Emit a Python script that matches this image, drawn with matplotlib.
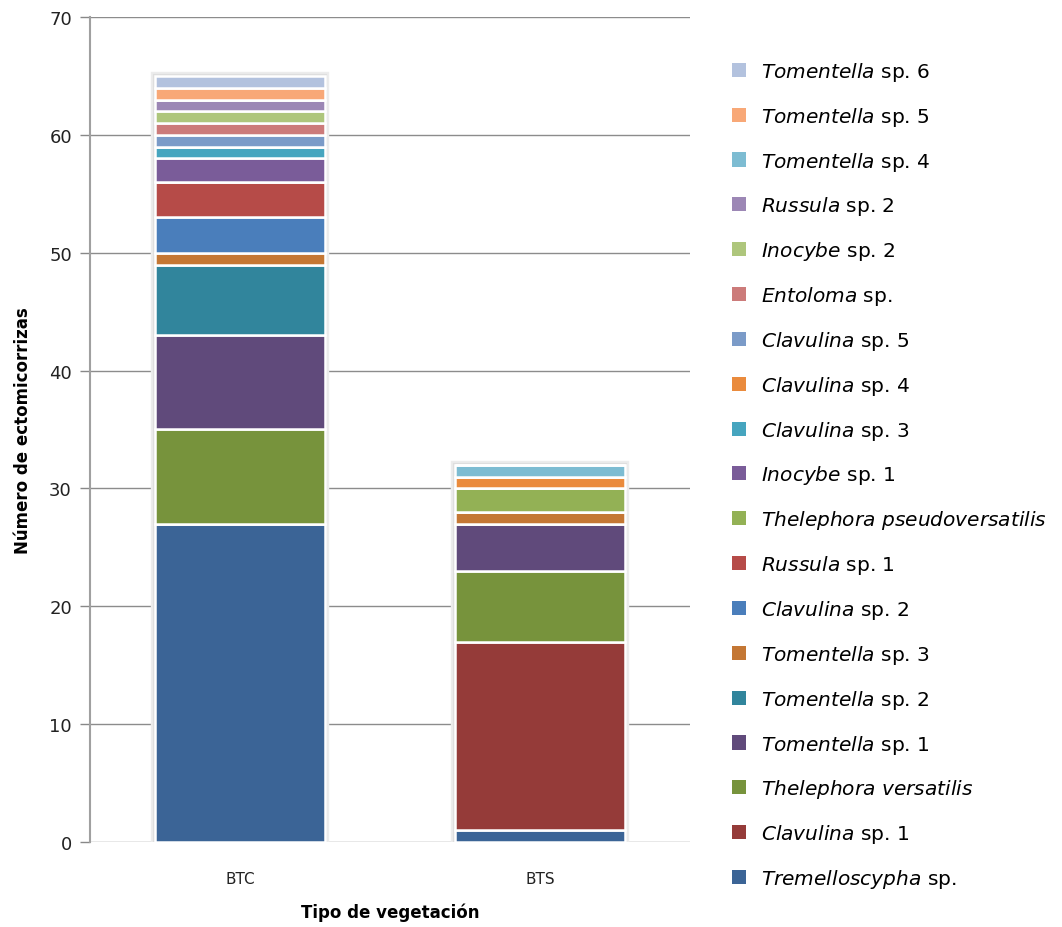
import matplotlib
matplotlib.use('Agg')
import numpy as np
import matplotlib.pyplot as plt
from matplotlib.patches import Patch

# vegetation types
sites = ['BTC', 'BTS']

# species, bottom of the stack first: (genus, rest of the name)
species = [
    ('Tremelloscypha', 'sp.'),
    ('Clavulina', 'sp. 1'),
    ('Thelephora versatilis', ''),
    ('Tomentella', 'sp. 1'),
    ('Tomentella', 'sp. 2'),
    ('Tomentella', 'sp. 3'),
    ('Clavulina', 'sp. 2'),
    ('Russula', 'sp. 1'),
    ('Thelephora pseudoversatilis', ''),
    ('Inocybe', 'sp. 1'),
    ('Clavulina', 'sp. 3'),
    ('Clavulina', 'sp. 4'),
    ('Clavulina', 'sp. 5'),
    ('Entoloma', 'sp.'),
    ('Inocybe', 'sp. 2'),
    ('Russula', 'sp. 2'),
    ('Tomentella', 'sp. 4'),
    ('Tomentella', 'sp. 5'),
    ('Tomentella', 'sp. 6'),
]

btc = [27, 0, 8, 8, 6, 1, 3, 3, 0, 2, 1, 0, 1, 1, 1, 1, 0, 1, 1]
bts = [1, 16, 6, 4, 0, 1, 0, 0, 2, 0, 0, 1, 0, 0, 0, 0, 1, 0, 0]

colors = ['#3b6496', '#953b39', '#77933c', '#604a7b', '#31859c', '#c47734',
          '#4a7ebb', '#b64b48', '#93b155', '#7a5c99', '#46a5bf', '#ea8b3d',
          '#7b9bc8', '#cc7b7a', '#aec67c', '#9c87b5', '#7dbcd2', '#f8a877',
          '#b3c2de']

fig = plt.figure(figsize=(10.62, 9.28), dpi=100)
ax = fig.add_axes([0.0847, 0.0916, 0.565, 0.889])

x = np.arange(len(sites))
width = 0.567
data = np.array([btc, bts], dtype=float)
totals = data.sum(axis=1)

# soft halo around each stack
ax.bar(x, totals, width, color='none', edgecolor='#ececec', linewidth=6, zorder=2)
ax.bar(x, totals, width, color='none', edgecolor='#dedede', linewidth=3, zorder=2)

bottom = np.zeros(len(sites))
for i, c in enumerate(colors):
    vals = data[:, i]
    ax.bar(x, vals, width, bottom=bottom, color=c, edgecolor='white',
           linewidth=1.8, zorder=3)
    bottom += vals

ax.set_xlim(-0.5, 1.5)
ax.set_ylim(0, 70)
ax.set_yticks(np.arange(0, 71, 10))
ax.set_xticks(x)
ax.set_xticklabels(sites, fontsize=11, color='#222222')
ax.tick_params(axis='x', length=0, pad=21)
ax.tick_params(axis='y', length=7, width=1, color='#888888', labelsize=13,
               labelcolor='#222222', pad=6)
ax.grid(axis='y', color='#8c8c8c', linewidth=1, zorder=0)
ax.set_axisbelow(True)
for s in ['top', 'right', 'bottom']:
    ax.spines[s].set_visible(False)
ax.spines['left'].set_color('#a0a0a0')
ax.spines['left'].set_linewidth(1.5)

ax.set_xlabel('Tipo de vegetación', fontsize=12, fontweight='bold', labelpad=12)
ax.set_ylabel('Número de ectomicorrizas', fontsize=12, fontweight='bold', labelpad=12)


def label(genus, rest):
    g = genus.replace(' ', r'\ ')
    txt = r'$\it{' + g + '}$'
    if rest:
        txt += ' ' + rest
    return txt


handles = [Patch(facecolor=c, edgecolor='none') for c in colors]
labels = [label(g, r) for g, r in species]
fig.legend(handles[::-1], labels[::-1], loc='upper left',
           bbox_to_anchor=(0.672, 0.954), frameon=False, fontsize=14.5,
           handlelength=0.7, handleheight=0.7, handletextpad=0.75,
           labelspacing=1.085)

fig.savefig('out.png', dpi=100)
